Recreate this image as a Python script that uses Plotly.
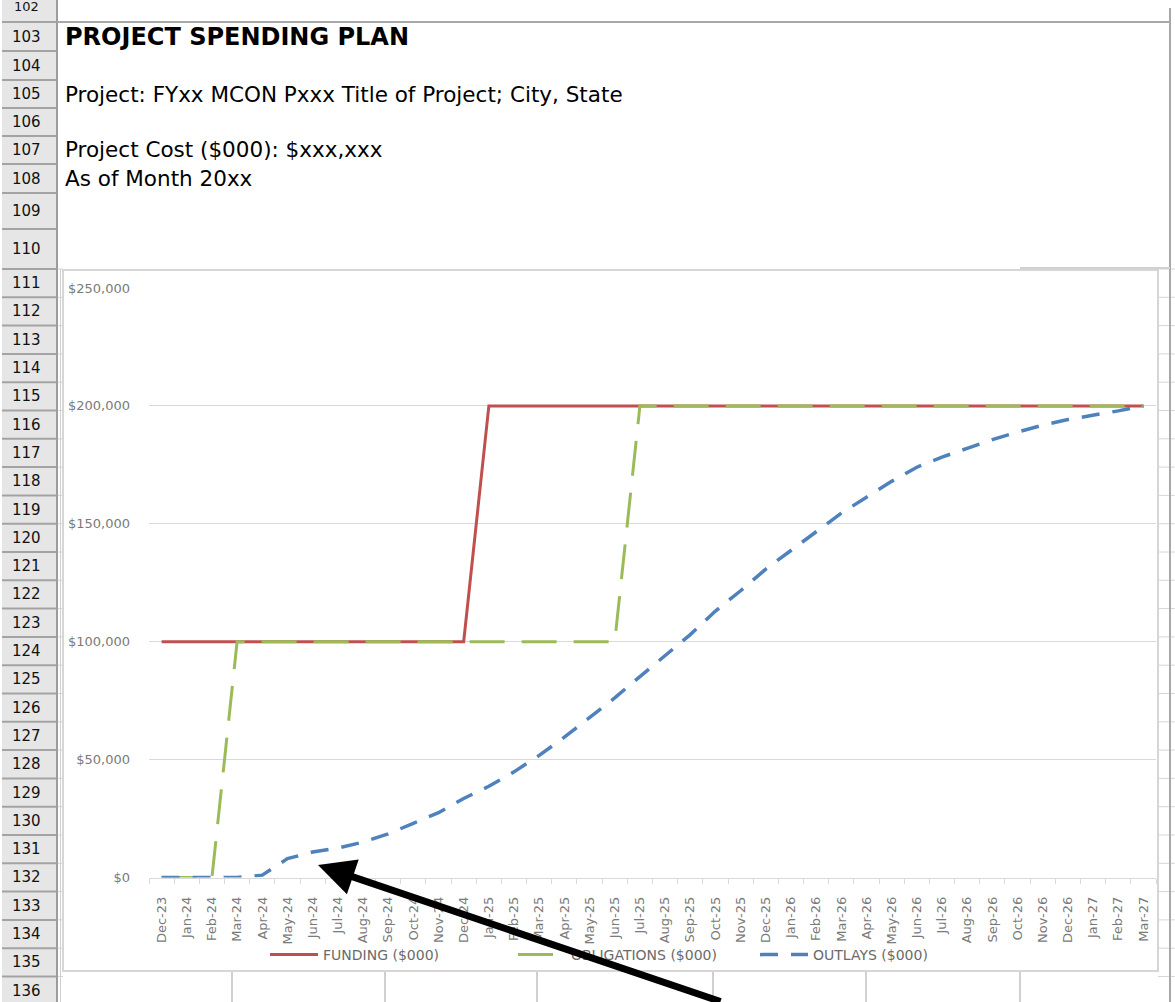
import plotly.graph_objects as go

W, H = 1175, 1002

# ---------------- data ----------------
months = ["Dec-23",
          "Jan-24", "Feb-24", "Mar-24", "Apr-24", "May-24", "Jun-24",
          "Jul-24", "Aug-24", "Sep-24", "Oct-24", "Nov-24", "Dec-24",
          "Jan-25", "Feb-25", "Mar-25", "Apr-25", "May-25", "Jun-25",
          "Jul-25", "Aug-25", "Sep-25", "Oct-25", "Nov-25", "Dec-25",
          "Jan-26", "Feb-26", "Mar-26", "Apr-26", "May-26", "Jun-26",
          "Jul-26", "Aug-26", "Sep-26", "Oct-26", "Nov-26", "Dec-26",
          "Jan-27", "Feb-27", "Mar-27"]

funding = [100000,
           100000, 100000, 100000, 100000, 100000, 100000,
           100000, 100000, 100000, 100000, 100000, 100000,
           200000, 200000, 200000, 200000, 200000, 200000,
           200000, 200000, 200000, 200000, 200000, 200000,
           200000, 200000, 200000, 200000, 200000, 200000,
           200000, 200000, 200000, 200000, 200000, 200000,
           200000, 200000, 200000]

obligations = [0,
               0, 0, 100000, 100000, 100000, 100000,
               100000, 100000, 100000, 100000, 100000, 100000,
               100000, 100000, 100000, 100000, 100000, 100000,
               200000, 200000, 200000, 200000, 200000, 200000,
               200000, 200000, 200000, 200000, 200000, 200000,
               200000, 200000, 200000, 200000, 200000, 200000,
               200000, 200000, 200000]

outlays = [0,
           0, 0, 0, 1000, 8000, 10800,
           12500, 15000, 18500, 23000, 27500, 33500,
           38700, 44800, 51800, 59500, 67700, 76200,
           85200, 94300, 103000, 113000, 121600, 130800,
           138600, 146400, 154500, 161300, 168000, 174000,
           178300, 182000, 185700, 188900, 191800, 194200,
           196000, 197900, 200000]

series_names = ["FUNDING ($000)", "OBLIGATIONS ($000)", "OUTLAYS ($000)"]

y_tick_vals = [0, 50000, 100000, 150000, 200000, 250000]
y_tick_text = ["$0", "$50,000", "$100,000", "$150,000", "$200,000", "$250,000"]

sheet_title = "PROJECT SPENDING PLAN"
sheet_lines = ["Project: FYxx MCON Pxxx Title of Project; City, State",
               "Project Cost ($000): $xxx,xxx",
               "As of Month 20xx"]
row_labels = [str(n) for n in range(102, 137)]

# ---------------- helpers ----------------
def X(p):
    return p / W


def Y(p):
    return 1 - p / H


FONT = "DejaVu Sans"
RED, GREEN, BLUE = "#C0504D", "#9BBB59", "#4F81BD"

fig = go.Figure()
fig.add_trace(go.Scatter(x=months, y=funding, name=series_names[0], mode="lines",
                         line=dict(color=RED, width=3), legend="legend"))
fig.add_trace(go.Scatter(x=months, y=obligations, name=series_names[1], mode="lines",
                         line=dict(color=GREEN, width=3, dash="35px,17px"), legend="legend2"))
fig.add_trace(go.Scatter(x=months, y=outlays, name=series_names[2], mode="lines",
                         line=dict(color=BLUE, width=3.5, dash="18px,13px"), legend="legend3"))

# ---------------- spreadsheet decoration ----------------
shapes = []
bounds = [-6, 22, 51, 80, 108, 136, 164, 193, 229, 269]
for i in range(1, 27):
    bounds.append(269 + 28.3 * i)
shapes.append(dict(type="rect", xref="paper", yref="paper", x0=X(2), x1=X(57),
                   y0=Y(1010), y1=Y(-10), fillcolor="#e6e6e6", line=dict(width=0), layer="below"))
for b in bounds[1:]:
    shapes.append(dict(type="line", xref="paper", yref="paper", x0=X(2), x1=X(57),
                       y0=Y(b), y1=Y(b), line=dict(color="#a3a3a3", width=2), layer="below"))
for b in bounds[9:]:
    shapes.append(dict(type="line", xref="paper", yref="paper", x0=X(57), x1=X(63),
                       y0=Y(b), y1=Y(b), line=dict(color="#d6d6d6", width=1), layer="below"))
    shapes.append(dict(type="line", xref="paper", yref="paper", x0=X(1158), x1=X(1175),
                       y0=Y(b), y1=Y(b), line=dict(color="#d6d6d6", width=1), layer="below"))
shapes.append(dict(type="line", xref="paper", yref="paper", x0=X(57), x1=X(57),
                   y0=Y(1010), y1=Y(-10), line=dict(color="#9c9c9c", width=2), layer="below"))
shapes.append(dict(type="line", xref="paper", yref="paper", x0=X(60.5), x1=X(60.5),
                   y0=Y(1010), y1=Y(269), line=dict(color="#d0d0d0", width=1), layer="below"))
shapes.append(dict(type="line", xref="paper", yref="paper", x0=X(57), x1=X(1171),
                   y0=Y(22), y1=Y(22), line=dict(color="#a8a8a8", width=2), layer="below"))
shapes.append(dict(type="line", xref="paper", yref="paper", x0=X(1170), x1=X(1170),
                   y0=Y(1010), y1=Y(8), line=dict(color="#a8a8a8", width=2), layer="below"))
shapes.append(dict(type="line", xref="paper", yref="paper", x0=X(1020), x1=X(1170),
                   y0=Y(268), y1=Y(268), line=dict(color="#d0d0d0", width=2), layer="below"))
for cx in [232, 385, 537, 713, 866, 1020]:
    shapes.append(dict(type="line", xref="paper", yref="paper", x0=X(cx), x1=X(cx),
                       y0=Y(1010), y1=Y(972), line=dict(color="#d0d0d0", width=2), layer="below"))
shapes.append(dict(type="rect", xref="paper", yref="paper", x0=X(63), x1=X(1158),
                   y0=Y(971), y1=Y(270), fillcolor="white",
                   line=dict(color="#d6d6d6", width=2), layer="below"))

annotations = []
for i, lab in enumerate(row_labels):
    c = (bounds[i] + bounds[i + 1]) / 2
    size = 15
    if i == 0:
        c = 7
        size = 13
    annotations.append(dict(text=lab, xref="paper", yref="paper", x=X(26), y=Y(c),
                            xanchor="center", yanchor="middle", showarrow=False,
                            font=dict(family=FONT, size=size, color="#111111")))
annotations.append(dict(text=sheet_title, xref="paper", yref="paper", x=X(63), y=Y(37),
                        xanchor="left", yanchor="middle", showarrow=False,
                        font=dict(family=FONT, size=24, color="#000000", weight="bold")))
for txt, yy in zip(sheet_lines, [94, 150, 179]):
    annotations.append(dict(text=txt, xref="paper", yref="paper", x=X(63), y=Y(yy),
                            xanchor="left", yanchor="middle", showarrow=False,
                            font=dict(family=FONT, size=21.5, color="#000000")))
annotations.append(dict(text="", xref="paper", yref="paper", x=X(318), y=Y(865),
                        axref="pixel", ayref="pixel", ax=404, ay=143, showarrow=True,
                        arrowhead=2, arrowsize=1.05, arrowwidth=7, arrowcolor="#000000",
                        standoff=0))

legend_common = dict(orientation="h", yanchor="middle", xanchor="left", y=Y(955),
                     bgcolor="rgba(0,0,0,0)", borderwidth=0, itemwidth=48,
                     font=dict(family=FONT, size=14, color="#6a6a6a"))

fig.update_layout(
    width=W, height=H,
    margin=dict(l=0, r=0, t=0, b=0, pad=0, autoexpand=False),
    paper_bgcolor="white", plot_bgcolor="rgba(0,0,0,0)",
    showlegend=True,
    legend=dict(x=X(265), **legend_common),
    legend2=dict(x=X(513), **legend_common),
    legend3=dict(x=X(755), **legend_common),
    shapes=shapes,
    annotations=annotations,
    xaxis=dict(type="category", categoryorder="array", categoryarray=months,
               range=[-0.5, len(months) - 0.5], domain=[X(149), X(1156)],
               tickangle=-90, tickfont=dict(family=FONT, size=13, color="#7a7a7a"),
               showline=True, linecolor="#d9d9d9", linewidth=1,
               ticks="outside", ticklen=5, tickcolor="#d9d9d9", tickson="boundaries",
               showgrid=False, zeroline=False, fixedrange=True, ticklabelstandoff=13,
               automargin=False),
    yaxis=dict(range=[0, 250000], domain=[Y(877.5), Y(288)],
               tickvals=y_tick_vals, ticktext=y_tick_text,
               tickfont=dict(family=FONT, size=13, color="#7a7a7a"),
               showgrid=True, gridcolor="#d9d9d9", gridwidth=1, zeroline=False,
               showline=False, ticks="", ticklabelstandoff=18, fixedrange=True,
               automargin=False),
)

fig.write_html("out.html")
